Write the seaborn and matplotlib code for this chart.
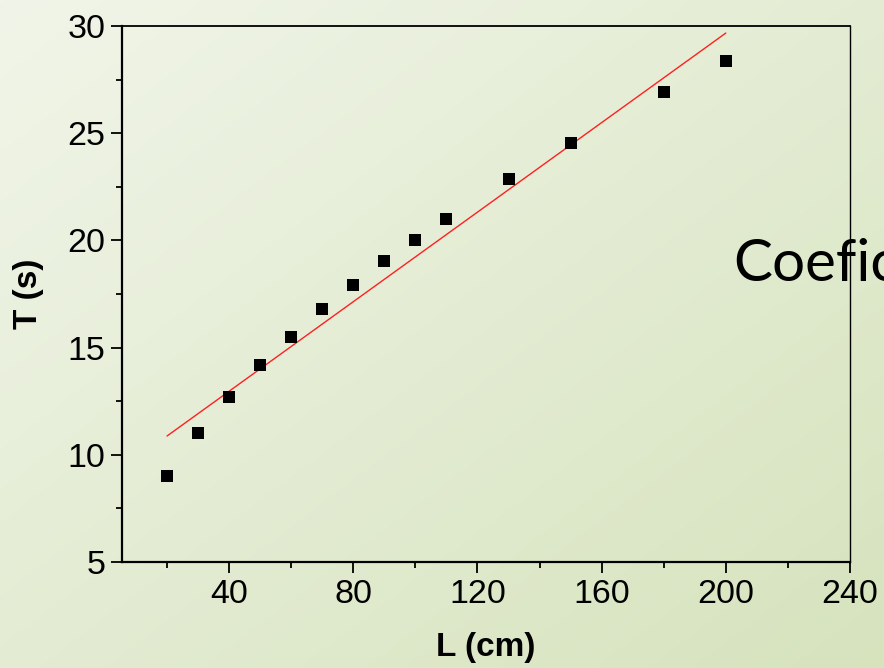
import numpy as np
import pandas as pd
import matplotlib
matplotlib.use("Agg")
import matplotlib.pyplot as plt
import seaborn as sns
from matplotlib.ticker import MultipleLocator

# Data
L_cm = [20, 30, 40, 50, 60, 70, 80, 90, 100, 110, 130, 150, 180, 200]
T_s = [9.0, 11.0, 12.7, 14.2, 15.5, 16.8, 17.9, 19.04, 20.0, 21.0, 22.86, 24.54, 26.9, 28.37]
x_ticks = [40, 80, 120, 160, 200, 240]
y_ticks = [5, 10, 15, 20, 25, 30]
x_label = "L (cm)"
y_label = "T (s)"
side_text = "Coeficiente"

df = pd.DataFrame({"L": L_cm, "T": T_s})

sns.set_style("ticks")
plt.rcParams["font.family"] = ["Liberation Sans", "DejaVu Sans"]
plt.rcParams["text.color"] = "black"
plt.rcParams["axes.labelcolor"] = "black"
plt.rcParams["xtick.color"] = "black"
plt.rcParams["ytick.color"] = "black"

fig = plt.figure(figsize=(8.84, 6.68), dpi=100)

# gradient background
bg = fig.add_axes([0, 0, 1, 1], zorder=-10)
h, w = 200, 200
yy, xx = np.mgrid[0:h, 0:w]
t = (xx / w + yy / h) / 2.0
c0 = np.array([241, 245, 233]) / 255.0
c1 = np.array([214, 227, 189]) / 255.0
img = c0[None, None, :] * (1 - t[..., None]) + c1[None, None, :] * t[..., None]
bg.imshow(img, aspect="auto", extent=[0, 1, 0, 1], origin="upper")
bg.set_axis_off()

ax = fig.add_axes([122 / 884, 1 - 562 / 668, (850 - 122) / 884, (562 - 26) / 668])
ax.patch.set_alpha(0)

sns.regplot(data=df, x="L", y="T", ax=ax, ci=None, scatter=False,
            line_kws=dict(color="#ff2020", lw=1.0), truncate=True)
sns.scatterplot(data=df, x="L", y="T", ax=ax, marker="s", s=80, color="black",
                edgecolor="black", linewidth=0, zorder=5)

ax.set_xlim(5.5, 240)
ax.set_ylim(5, 30)
ax.set_xticks(x_ticks)
ax.set_yticks(y_ticks)
ax.xaxis.set_minor_locator(MultipleLocator(20))
ax.yaxis.set_minor_locator(MultipleLocator(2.5))

ax.tick_params(axis="both", which="major", direction="out", length=8, width=1.3,
               labelsize=24.5, pad=4, colors="black", labelcolor="black")
ax.tick_params(axis="both", which="minor", direction="out", length=4, width=1.3,
               colors="black")
ax.tick_params(top=False, right=False, which="both")

for side, lw in [("left", 1.6), ("bottom", 1.6), ("top", 1.3), ("right", 1.0)]:
    ax.spines[side].set_visible(True)
    ax.spines[side].set_linewidth(lw)
    ax.spines[side].set_color("black")

ax.set_xlabel(x_label, fontsize=24, fontweight="bold", labelpad=16, color="black")
ax.set_ylabel(y_label, fontsize=24, fontweight="bold", labelpad=17, color="black")

fig.text(733 / 884, 1 - 281 / 668, side_text, fontsize=42, family="Lato",
         color="black", ha="left", va="baseline")

fig.savefig("out.png", dpi=100)
